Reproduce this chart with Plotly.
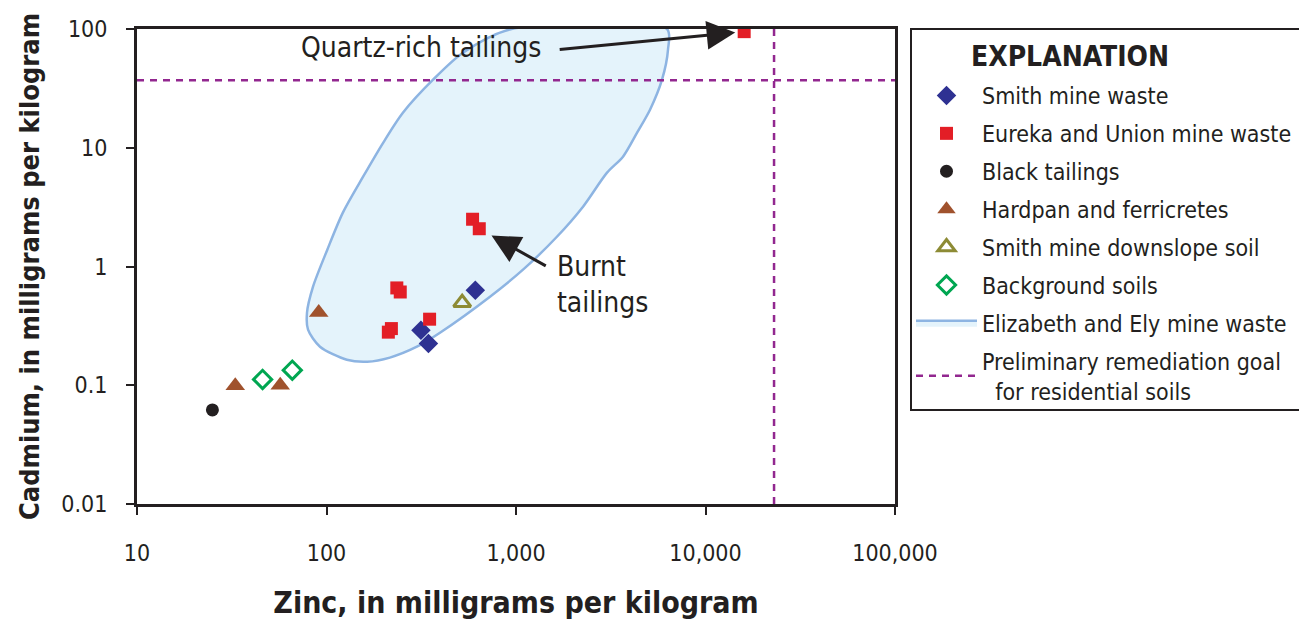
import numpy as np
import plotly.graph_objects as go

FONT = "Liberation Sans Narrow, DejaVu Sans Condensed, Arial Narrow, sans-serif"

# ---------------- data ----------------
smith_zn = [610, 315, 345]
smith_cd = [0.63, 0.29, 0.225]

eureka_zn = [16000, 590, 640, 235, 245, 350, 220, 212]
eureka_cd = [95, 2.5, 2.08, 0.66, 0.61, 0.36, 0.30, 0.28]

black_zn = [25]
black_cd = [0.062]

hardpan_zn = [91, 33, 57]
hardpan_cd = [0.41, 0.099, 0.1]

downslope_zn = [520]
downslope_cd = [0.495]

background_zn = [46, 66]
background_cd = [0.112, 0.134]

# outline of the Elizabeth and Ely mine waste field
ely_zn = [948, 525, 365, 253, 199, 156, 122, 101, 84.9, 78.9, 79.9, 92.4, 128, 164,
          216, 300, 397, 729, 1089, 1644, 2258, 3023, 3670, 4355, 5096, 5895, 6340,
          6266, 948]
ely_cd = [100, 63.1, 37.4, 19.7, 11.0, 5.70, 2.84, 1.385, 0.676, 0.408, 0.294, 0.211,
          0.164, 0.158, 0.171, 0.211, 0.277, 0.557, 0.940, 1.78, 3.19, 6.17, 8.41,
          13.4, 20.9, 37.4, 67.0, 100, 100]

prg_zn = 23000
prg_cd = 37

x_tickvals = [10, 100, 1000, 10000, 100000]
x_ticktext = ["10", "100", "1,000", "10,000", "100,000"]
y_tickvals = [0.01, 0.1, 1, 10, 100]
y_ticktext = ["0.01", "0.1", "1", "10", "100"]

# ---------------- figure ----------------
fig = go.Figure()

fig.add_trace(go.Scatter(
    x=ely_zn, y=ely_cd, mode="lines", fill="toself", line_shape="spline",
    fillcolor="#E4F3FB", line=dict(color="#8DB4E2", width=2.5, smoothing=0.8),
    name="Elizabeth and Ely mine waste", legendrank=7, legendgroup="g7"))
fig.add_trace(go.Scatter(
    x=[10, 100000, None, prg_zn, prg_zn], y=[prg_cd, prg_cd, None, 0.01, 100],
    mode="lines", line=dict(color="#92278F", width=2.5, dash="7px,6px"),
    name="Preliminary remediation goal<br>&nbsp;&nbsp;for residential soils",
    legendrank=8, legendgroup="g8"))
fig.add_trace(go.Scatter(
    x=smith_zn, y=smith_cd, mode="markers", name="Smith mine waste",
    marker=dict(symbol="diamond", size=15, color="#2E3192"),
    legendrank=1, legendgroup="g1"))
fig.add_trace(go.Scatter(
    x=eureka_zn, y=eureka_cd, mode="markers", name="Eureka and Union mine waste",
    marker=dict(symbol="square", size=13, color="#E31E26"),
    legendrank=2, legendgroup="g2"))
fig.add_trace(go.Scatter(
    x=black_zn, y=black_cd, mode="markers", name="Black tailings",
    marker=dict(symbol="circle", size=13, color="#231F20"),
    legendrank=3, legendgroup="g3"))
fig.add_trace(go.Scatter(
    x=hardpan_zn, y=hardpan_cd, mode="markers", name="Hardpan and ferricretes",
    marker=dict(symbol="triangle-up", size=17, color="#A0522D"),
    legendrank=4, legendgroup="g4"))
fig.add_trace(go.Scatter(
    x=downslope_zn, y=downslope_cd, mode="markers", name="Smith mine downslope soil",
    marker=dict(symbol="triangle-up-open", size=15, color="#8D8B35",
                line=dict(width=3, color="#8D8B35")),
    legendrank=5, legendgroup="g5"))
fig.add_trace(go.Scatter(
    x=background_zn, y=background_cd, mode="markers", name="Background soils",
    marker=dict(symbol="diamond-open", size=14, color="#00A651",
                line=dict(width=3, color="#00A651")),
    legendrank=6, legendgroup="g6"))

# annotations
fig.add_annotation(x=np.log10(eureka_zn[0]), y=np.log10(eureka_cd[0]), xref="x", yref="y",
                   ax=-186, ay=18, text="", showarrow=True, arrowhead=2,
                   arrowsize=1.9, arrowwidth=3, arrowcolor="#231F20", standoff=9)
fig.add_annotation(x=0.375, y=0.962, xref="paper", yref="paper", text="Quartz-rich tailings",
                   showarrow=False, xanchor="center", yanchor="middle",
                   font=dict(family=FONT, size=28, color="#231F20"))
fig.add_annotation(x=np.log10(eureka_zn[2]), y=np.log10(eureka_cd[2]), xref="x", yref="y",
                   ax=68, ay=38, text="", showarrow=True, arrowhead=2,
                   arrowsize=1.9, arrowwidth=3, arrowcolor="#231F20", standoff=14)
fig.add_annotation(x=0.552, y=0.463, xref="paper", yref="paper", text="Burnt<br>tailings",
                   showarrow=False, xanchor="left", yanchor="middle", align="left",
                   font=dict(family=FONT, size=28, color="#231F20"))

# explanation box and title
LX0 = (911 - 137) / 758
fig.add_shape(type="rect", xref="paper", yref="paper", x0=LX0, x1=1.55,
              y0=(504 - 410) / 475, y1=(504 - 29) / 475,
              line=dict(color="#231F20", width=2), fillcolor="rgba(0,0,0,0)", layer="above")
fig.add_annotation(x=(1070 - 137) / 758, y=(504 - 56) / 475, xref="paper", yref="paper",
                   text="<b>EXPLANATION</b>", showarrow=False, xanchor="center",
                   yanchor="middle", font=dict(family=FONT, size=28, color="#231F20"))

axis_common = dict(
    type="log", showgrid=False, zeroline=False, showline=True, linecolor="#231F20",
    linewidth=3, mirror=True, ticks="outside", ticklen=8, tickwidth=2,
    tickcolor="#231F20", tickfont=dict(family=FONT, size=23, color="#231F20"))

fig.update_xaxes(**axis_common, range=[1, 5], tickvals=x_tickvals, ticktext=x_ticktext,
                 ticklabelstandoff=18,
                 title=dict(text="<b>Zinc, in milligrams per kilogram</b>", standoff=28,
                            font=dict(family=FONT, size=30, color="#231F20")))
fig.update_yaxes(**axis_common, range=[-2, 2], tickvals=y_tickvals, ticktext=y_ticktext,
                 ticklabelstandoff=14,
                 title=dict(text="<b>Cadmium, in milligrams per kilogram</b>", standoff=14,
                            font=dict(family=FONT, size=27, color="#231F20")))

fig.update_layout(
    width=1299, height=620, autosize=False,
    margin=dict(l=137, r=404, t=29, b=116, autoexpand=False),
    paper_bgcolor="white", plot_bgcolor="white",
    font=dict(family=FONT, color="#231F20"),
    legend=dict(
        xref="paper", yref="paper", x=LX0, y=(504 - 74) / 475,
        xanchor="left", yanchor="top", maxheight=600,
        borderwidth=0, bgcolor="rgba(0,0,0,0)",
        font=dict(family=FONT, size=23, color="#231F20"),
        tracegroupgap=5, itemwidth=61,
    ),
)

fig.write_html("out.html")
